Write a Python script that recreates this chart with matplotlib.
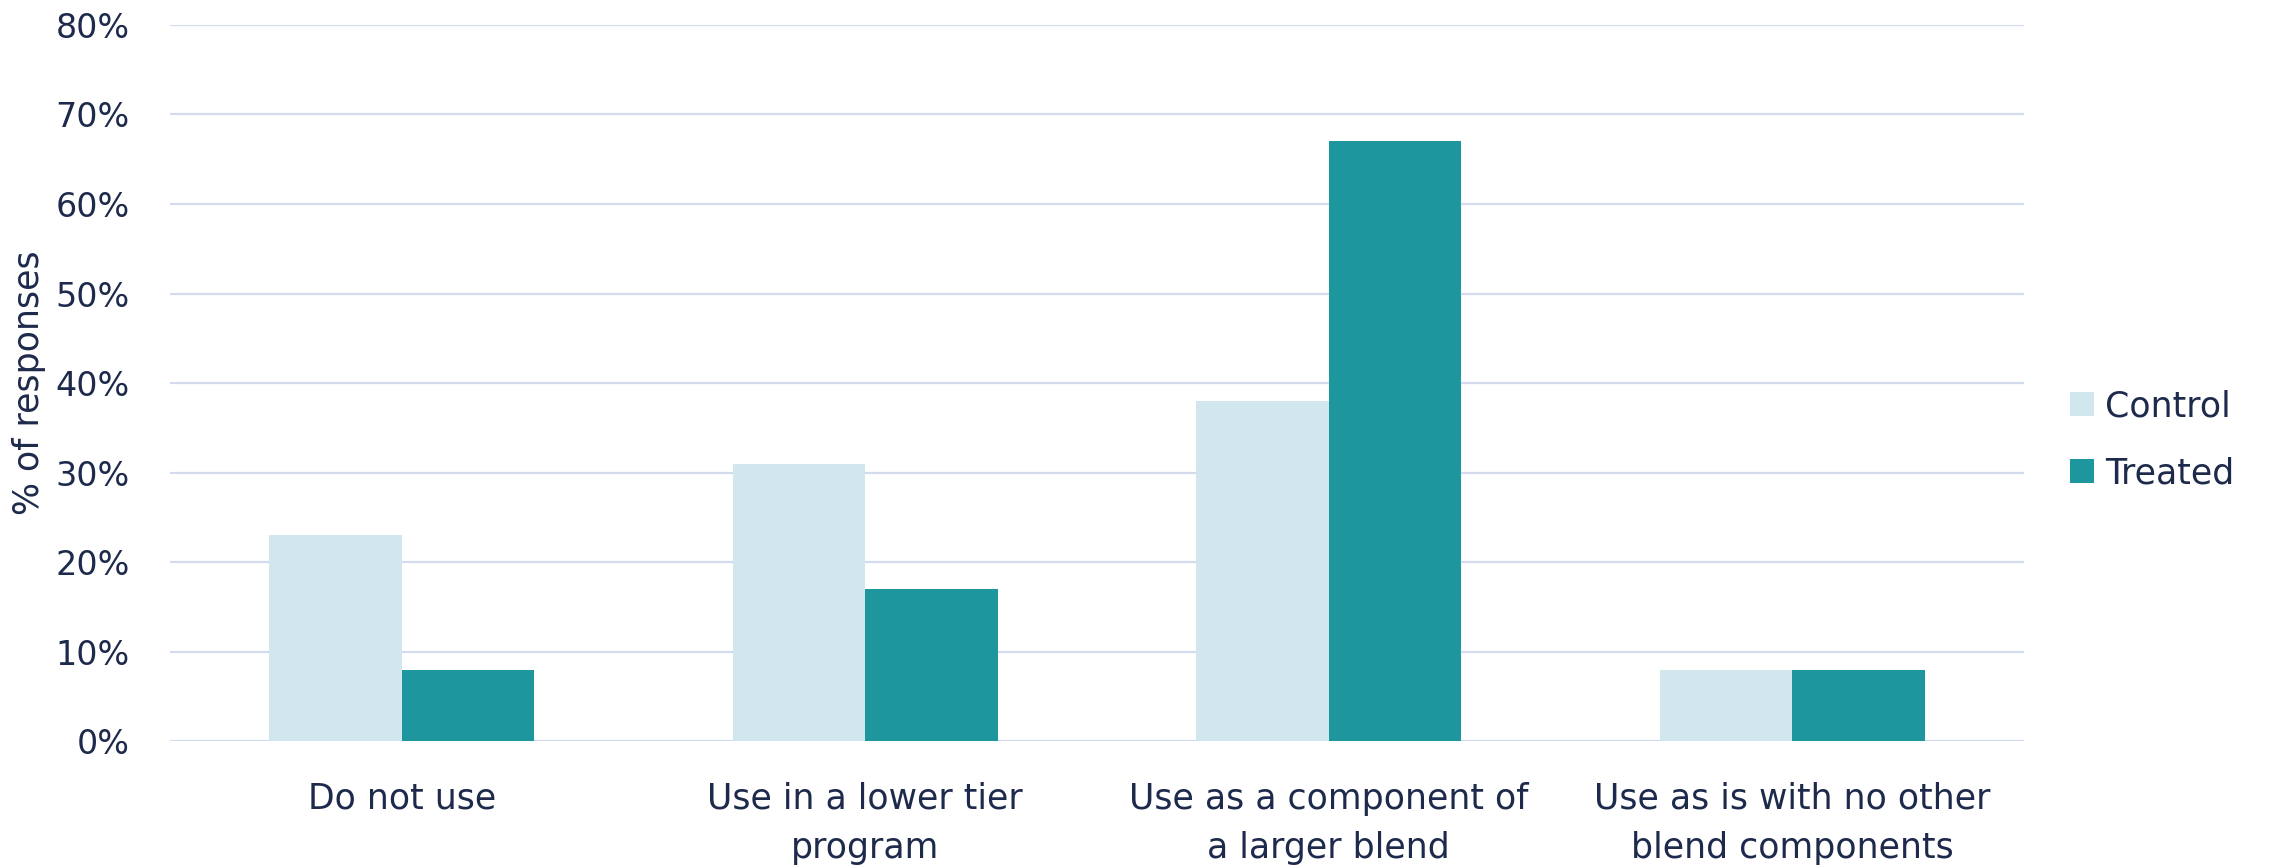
import numpy as np
import matplotlib.pyplot as plt
from matplotlib.ticker import PercentFormatter

categories = ['Do not use', 'Use in a lower tier\nprogram',
              'Use as a component of\na larger blend',
              'Use as is with no other\nblend components']
control = [23, 31, 38, 8]
treated = [8, 17, 67, 8]

text_col = '#1E2A4C'
grid_col = '#D5DBEE'
plt.rcParams['font.family'] = 'DejaVu Sans'

fig = plt.figure(figsize=(22.75, 8.68), dpi=100)
ax = fig.add_axes([0.0747, 0.1458, 0.815, 0.8257])

x = np.arange(len(categories))
w = 0.286
ax.bar(x - w/2, control, w, color='#D2E6EE', label='Control', zorder=2)
ax.bar(x + w/2, treated, w, color='#1D979D', label='Treated', zorder=2)

ax.set_xlim(-0.5, 3.5)
ax.set_ylim(0, 80)
ax.set_yticks(np.arange(0, 81, 10))
ax.yaxis.set_major_formatter(PercentFormatter(decimals=0))
ax.set_xticks(x)
ax.set_xticklabels(categories, linespacing=1.55)
ax.grid(axis='y', color=grid_col, lw=1.6, zorder=0)
ax.set_axisbelow(True)
for s in ax.spines.values():
    s.set_visible(False)
ax.tick_params(axis='x', length=0, pad=29, labelsize=25, colors=text_col)
ax.tick_params(axis='y', length=0, pad=29, labelsize=24, colors=text_col)

fig.text(29/2275, 1 - 383/868, '% of responses', rotation=90, fontsize=25,
         color=text_col, ha='center', va='center')

leg = fig.legend(loc='center left', bbox_to_anchor=(2070/2275, 1 - 440/868),
                 frameon=False, fontsize=25, handlelength=0.69, handleheight=0.69,
                 handletextpad=0.32, labelspacing=0.95, borderpad=0, borderaxespad=0)
for t in leg.get_texts():
    t.set_color(text_col)

plt.savefig('out.png', dpi=100)
